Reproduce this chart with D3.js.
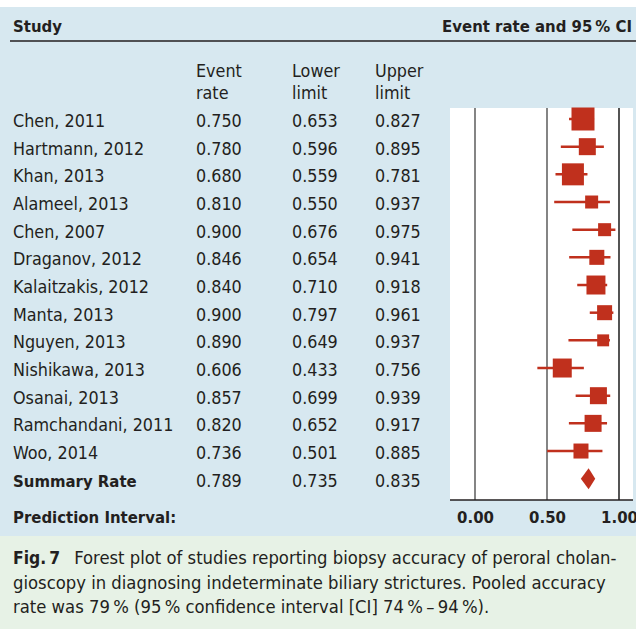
<!DOCTYPE html>
<html>
<head>
<meta charset="utf-8">
<script src="https://cdn.jsdelivr.net/npm/d3@7"></script>
<style>
  body { margin: 0; background: #fff; }
  svg text { font-family: "DejaVu Sans Condensed", "DejaVu Sans", sans-serif; font-stretch: condensed; fill: #231f20; }
</style>
</head>
<body>
<div id="chart"></div>
<script>
const studies = ['Chen, 2011', 'Hartmann, 2012', 'Khan, 2013', 'Alameel, 2013', 'Chen, 2007',
  'Draganov, 2012', 'Kalaitzakis, 2012', 'Manta, 2013', 'Nguyen, 2013', 'Nishikawa, 2013',
  'Osanai, 2013', 'Ramchandani, 2011', 'Woo, 2014'];
const eventRate = [0.750, 0.780, 0.680, 0.810, 0.900, 0.846, 0.840, 0.900, 0.890, 0.606, 0.857, 0.820, 0.736];
const lowerLimit = [0.653, 0.596, 0.559, 0.550, 0.676, 0.654, 0.710, 0.797, 0.649, 0.433, 0.699, 0.652, 0.501];
const upperLimit = [0.827, 0.895, 0.781, 0.937, 0.975, 0.941, 0.918, 0.961, 0.937, 0.756, 0.939, 0.917, 0.885];
// relative weights (%)
const weights = [14.1, 7.7, 12.9, 4.5, 4.5, 6.0, 9.6, 6.0, 3.8, 9.6, 7.7, 7.7, 6.0];
const summary = { label: 'Summary Rate', rate: 0.789, lower: 0.735, upper: 0.835 };
const ticks = [0, 0.5, 1];

const W = 636, H = 633;
const red = '#c0301d';
const fsReg = 17.8, fsBold = 16.6, fsCap = 18.3;

const svg = d3.select('#chart').append('svg').attr('width', W).attr('height', H);

// backgrounds
svg.append('rect').attr('x', 0).attr('y', 7).attr('width', W).attr('height', 529).attr('fill', '#d7e8f0');
svg.append('rect').attr('x', 0).attr('y', 536).attr('width', W).attr('height', 93).attr('fill', '#e7f2e6');

// header
svg.append('text').attr('x', 13).attr('y', 32).attr('font-size', fsBold).attr('font-weight', 'bold').text('Study');
svg.append('text').attr('x', 632).attr('y', 32).attr('font-size', fsBold).attr('font-weight', 'bold')
  .attr('text-anchor', 'end').text('Event rate and 95\u2009% CI');
svg.append('line').attr('x1', 10).attr('x2', W).attr('y1', 41).attr('y2', 41).attr('stroke', '#231f20').attr('stroke-width', 1.5);

const cols = [
  { x: 196, lines: ['Event', 'rate'], vals: eventRate, s: summary.rate },
  { x: 292, lines: ['Lower', 'limit'], vals: lowerLimit, s: summary.lower },
  { x: 375, lines: ['Upper', 'limit'], vals: upperLimit, s: summary.upper }
];
cols.forEach(c => {
  c.lines.forEach((l, i) => {
    svg.append('text').attr('x', c.x).attr('y', 77 + i * 22).attr('font-size', fsReg).text(l);
  });
});

const rows = studies.concat([summary.label]);
const y = d3.scalePoint().domain(rows).range([119, 478.7]);
const x = d3.scaleLinear().domain([0, 1]).range([475, 619]);
const size = d3.scaleSqrt().domain([0, 14.1]).range([0, 23]);
const fmt = d3.format('.3f');

// left table
const g = svg.append('g');
g.selectAll('text.study').data(rows).enter().append('text')
  .attr('class', 'study')
  .attr('x', 13).attr('y', d => y(d) + 8)
  .attr('font-size', d => d === summary.label ? fsBold : fsReg)
  .attr('font-weight', d => d === summary.label ? 'bold' : null)
  .text(d => d);
cols.forEach(c => {
  g.selectAll(null).data(c.vals.concat([c.s])).enter().append('text')
    .attr('x', c.x).attr('y', (d, i) => y(rows[i]) + 8)
    .attr('font-size', fsReg)
    .text(d => fmt(d));
});

// plot panel
const panelTop = 108, panelBottom = 500;
svg.append('rect').attr('x', 450).attr('y', panelTop).attr('width', 183).attr('height', panelBottom - panelTop).attr('fill', '#fff');
svg.selectAll('line.grid').data(ticks).enter().append('line')
  .attr('class', 'grid')
  .attr('x1', d => x(d)).attr('x2', d => x(d))
  .attr('y1', panelTop).attr('y2', panelBottom)
  .attr('stroke', d => d === 1 ? '#2a2a2a' : '#666')
  .attr('stroke-width', 1.6);

// axis
const axis = svg.append('g').attr('transform', `translate(0,${panelBottom})`)
  .call(d3.axisBottom(x).tickValues(ticks).tickSize(0).tickFormat(d3.format('.2f')));
axis.select('.domain').remove();
axis.attr('font-family', null).attr('font-size', null);
axis.selectAll('text').attr('font-size', fsBold).attr('font-weight', 'bold').attr('dy', null).attr('y', 23).attr('fill', '#231f20');
svg.append('line').attr('x1', 450).attr('x2', 633).attr('y1', panelBottom).attr('y2', panelBottom).attr('stroke', '#231f20').attr('stroke-width', 1.5);

// CI lines
svg.selectAll('line.ci').data(studies).enter().append('line')
  .attr('class', 'ci')
  .attr('x1', (d, i) => x(lowerLimit[i])).attr('x2', (d, i) => x(upperLimit[i]))
  .attr('y1', d => y(d)).attr('y2', d => y(d))
  .attr('stroke', red).attr('stroke-width', 2.5);

// squares
svg.selectAll('rect.pt').data(studies).enter().append('rect')
  .attr('class', 'pt')
  .attr('x', (d, i) => x(eventRate[i]) - size(weights[i]) / 2)
  .attr('y', (d, i) => y(d) - size(weights[i]) / 2)
  .attr('width', (d, i) => size(weights[i]))
  .attr('height', (d, i) => size(weights[i]))
  .attr('fill', red);

// summary diamond
const sy = y(summary.label);
svg.append('path')
  .attr('d', `M${x(summary.lower)},${sy} L${x(summary.rate)},${sy - 10.5} L${x(summary.upper)},${sy} L${x(summary.rate)},${sy + 10.5} Z`)
  .attr('fill', red);

// prediction interval label
svg.append('text').attr('x', 13).attr('y', 523).attr('font-size', fsBold).attr('font-weight', 'bold').text('Prediction Interval:');

// caption
const cap = svg.append('text').attr('font-size', fsCap);
const l1 = cap.append('tspan').attr('x', 13).attr('y', 564);
l1.append('tspan').attr('font-weight', 'bold').attr('font-size', fsCap * 0.95).text('Fig.\u20097');
l1.append('tspan').attr('dx', 14).text('Forest plot of studies reporting biopsy accuracy of peroral cholan-');
cap.append('tspan').attr('x', 13).attr('y', 589).text('gioscopy in diagnosing indeterminate biliary strictures. Pooled accuracy');
cap.append('tspan').attr('x', 13).attr('y', 613).text('rate was 79\u2009% (95\u2009% confidence interval [CI] 74\u2009%\u2009–\u200994\u2009%).');
</script>
</body>
</html>
